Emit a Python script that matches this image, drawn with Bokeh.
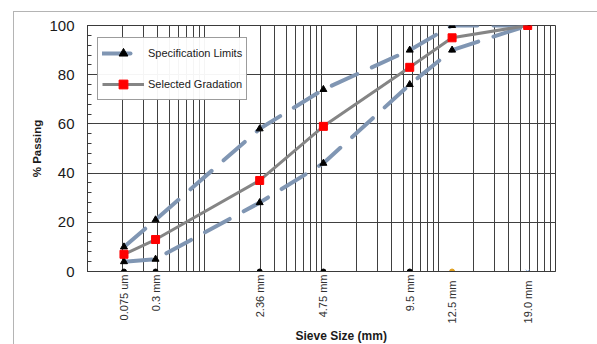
import numpy as np
from math import pi
from bokeh.plotting import figure
from bokeh.models import (FixedTicker, Range1d, Legend, LegendItem, Title,
                          ColumnDataSource, InlineStyleSheet)
from bokeh.embed import file_html
from bokeh.resources import INLINE

# ---------------- data ----------------
sieve_mm = [0.075, 0.3, 2.36, 4.75, 9.5, 12.5, 19.0]
sieve_labels = ["0.075 um", "0.3 mm", "2.36 mm", "4.75 mm", "9.5 mm", "12.5 mm", "19.0 mm"]
spec_upper = [10, 21, 58, 74, 90, 100, 100]
spec_lower = [4, 5, 28, 44, 76, 90, 100]
selected = [7, 13, 37, 59, 83, 95, 100]
y_ticks = [0, 20, 40, 60, 80, 100]

# ---------------- styles ----------------
POW = 0.45
BLUE = "#8096B3"
GRAY = "#858585"
GRID = "#404040"
FONT = "Liberation Sans"
label_pad = [0, 0, 0, 0, 0, 2, 2]          # extra spacing for lower labels
axis_marker = ["circle", "circle", "circle", "circle", "circle", "circle", "x"]
axis_marker_color = ["black", "black", "black", "black", "black", "#e0a020", "#8aaee0"]

xs = [round(s ** POW, 6) for s in sieve_mm]

frame_css = InlineStyleSheet(css="""
:host::after {
  content: ""; position: absolute; left: 13px; top: 11px; right: -6px; bottom: -6px;
  border: 1px solid #b4b4b4; pointer-events: none;
}
""")

p = figure(frame_width=468, frame_height=246, output_backend="svg", toolbar_location=None,
           x_range=Range1d(0, 4), y_range=Range1d(0, 100),
           min_border_left=87, min_border_right=42, min_border_top=25,
           min_border_bottom=73, stylesheets=[frame_css])
p.title.visible = False
p.background_fill_color = "white"
p.border_fill_color = "white"
p.outline_line_color = "#3a3a3a"
p.outline_line_width = 1

# grid: log-pattern minor lines inside each transformed unit
grid_x = sorted(set(round(n + np.log10(k), 6) for n in range(4) for k in range(1, 11)))
p.xgrid.ticker = FixedTicker(ticks=grid_x)
p.xgrid.grid_line_color = GRID
p.xgrid.grid_line_width = 1
p.ygrid.ticker = FixedTicker(ticks=y_ticks)
p.ygrid.grid_line_color = GRID
p.ygrid.grid_line_width = 1

# x axis
p.xaxis.ticker = FixedTicker(ticks=xs)
p.xaxis.major_label_overrides = {x: lab + "\u00a0" * pad
                                 for x, lab, pad in zip(xs, sieve_labels, label_pad)}
p.xaxis.major_label_orientation = pi / 2
p.xaxis.major_tick_line_color = None
p.xaxis.minor_tick_line_color = None
p.xaxis.major_label_standoff = -3
p.xaxis.major_label_text_font = FONT
p.xaxis.major_label_text_font_size = "11px"
p.xaxis.major_label_text_color = "#303030"
p.xaxis.axis_line_color = "#3a3a3a"

# y axis
p.yaxis.ticker = FixedTicker(ticks=y_ticks, minor_ticks=list(range(0, 101, 4)))
p.yaxis.major_tick_in = 4
p.yaxis.major_tick_out = 0
p.yaxis.minor_tick_in = 4
p.yaxis.minor_tick_out = 0
p.yaxis.major_tick_line_color = "#3a3a3a"
p.yaxis.minor_tick_line_color = "#3a3a3a"
p.yaxis.axis_line_color = "#3a3a3a"
p.yaxis.major_label_standoff = 13
p.yaxis.major_label_text_font = FONT
p.yaxis.major_label_text_font_size = "15px"
p.yaxis.major_label_text_color = "#1a1a1a"
p.yaxis.axis_label = "% Passing"
p.yaxis.axis_label_text_font = FONT
p.yaxis.axis_label_text_font_style = "bold"
p.yaxis.axis_label_text_font_size = "11.5px"
p.yaxis.axis_label_text_color = "#1a1a1a"
p.yaxis.axis_label_standoff = 3

# series
lu = p.line(xs, spec_upper, line_color=BLUE, line_width=4, line_dash="28 16", line_cap="round")
ll = p.line(xs, spec_lower, line_color=BLUE, line_width=4, line_dash="28 16", line_cap="round")
su = p.scatter(xs, spec_upper, marker="triangle", size=7, color="black")
sl = p.scatter(xs, spec_lower, marker="triangle", size=7, color="black")
lg = p.line(xs, selected, line_color=GRAY, line_width=3)
sg = p.scatter(xs, selected, marker="square", size=8, color="#ff0000")

am_src = ColumnDataSource(dict(x=xs, y=[0] * len(xs), m=axis_marker, c=axis_marker_color))
p.scatter("x", "y", marker="m", size=5, color="c", source=am_src)

legend = Legend(items=[LegendItem(label="Specification Limits", renderers=[lu, su]),
                       LegendItem(label="Selected Gradation", renderers=[lg, sg])],
                location=(10, 171))
legend.border_line_color = "#3a3a3a"
legend.border_line_width = 1
legend.label_text_font = FONT
legend.label_text_font_size = "11px"
legend.label_text_color = "#1a1a1a"
legend.glyph_width = 42
legend.glyph_height = 22
legend.spacing = 9
legend.padding = 4
legend.label_standoff = 4
legend.margin = 0
p.add_layout(legend)

p.add_layout(Title(text="Sieve Size (mm)", align="left", offset=208, standoff=0,
                   text_font=FONT, text_font_style="bold", text_font_size="12px",
                   text_color="#1a1a1a"), "below")

open("out.html", "w").write(file_html(p, INLINE))
